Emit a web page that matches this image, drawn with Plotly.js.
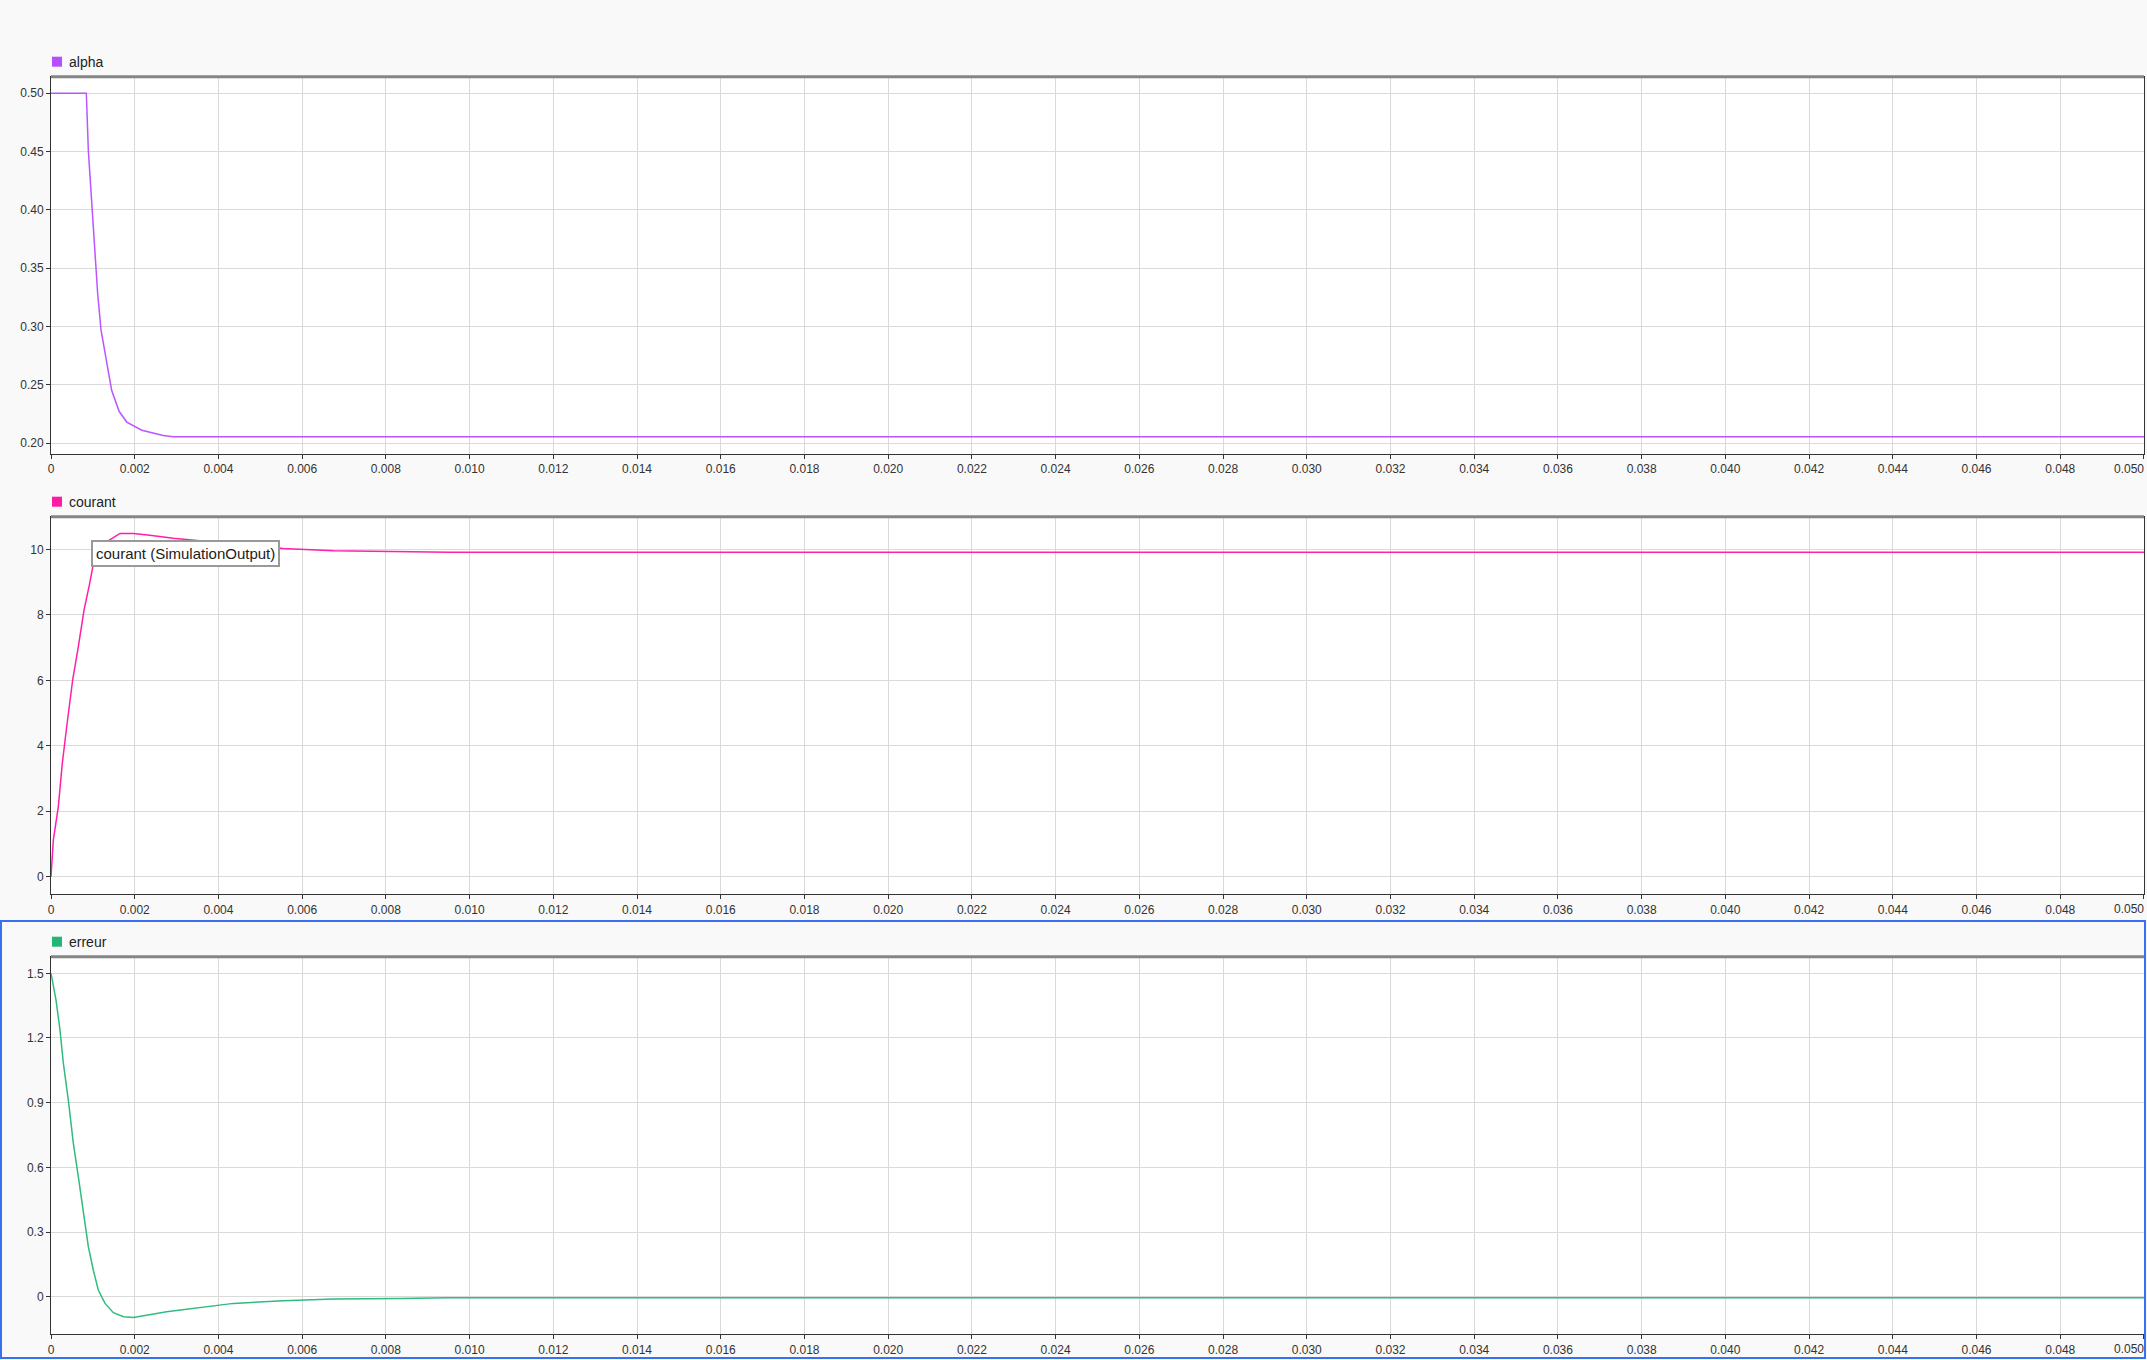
<!DOCTYPE html>
<html>
<head>
<meta charset="utf-8">
<script src="https://cdn.plot.ly/plotly-3.0.1.min.js"></script>
<style>
html,body{margin:0;padding:0;background:#f9f9f9;}
#chart{width:2147px;height:1360px;}
</style>
</head>
<body>
<div id="chart"></div>
<script>
// ---- data ----
var tAlpha = [0, 0.000844, 0.000892, 0.000972, 0.00105, 0.001115, 0.001195, 0.00129, 0.00145, 0.00163, 0.00181, 0.00217, 0.00268, 0.00292, 0.05];
var alpha  = [0.5, 0.5, 0.451, 0.403, 0.360, 0.328, 0.297, 0.277, 0.245, 0.227, 0.218, 0.211, 0.2065, 0.2054, 0.2054];

var tCourant = [0, 0.000056, 0.000175, 0.00027, 0.000375, 0.000518, 0.000653, 0.00079, 0.000916, 0.00103, 0.00122, 0.00141, 0.00165, 0.00197, 0.00236, 0.00292, 0.0045, 0.00555, 0.00675, 0.00794, 0.00953, 0.05];
var courant  = [0, 1.12, 2.14, 3.46, 4.58, 6.01, 7.03, 8.15, 8.91, 9.68, 10.10, 10.30, 10.49, 10.49, 10.43, 10.34, 10.15, 10.03, 9.96, 9.94, 9.91, 9.91];

var tErreur = [0, 0.00012, 0.000215, 0.000295, 0.000414, 0.000534, 0.000653, 0.000773, 0.000892, 0.00101, 0.00113, 0.00129, 0.00149, 0.00173, 0.00197, 0.00276, 0.00396, 0.00436, 0.00555, 0.00675, 0.00834, 0.0095, 0.05];
var erreur  = [1.5, 1.376, 1.237, 1.083, 0.912, 0.711, 0.557, 0.387, 0.232, 0.124, 0.031, -0.031, -0.074, -0.093, -0.096, -0.070, -0.042, -0.031, -0.0185, -0.0108, -0.008, -0.005, -0.005];

var seriesNames = ["alpha", "courant", "erreur"];
var tooltipText = "courant (SimulationOutput)";

var xTickVals = [0,0.002,0.004,0.006,0.008,0.010,0.012,0.014,0.016,0.018,0.020,0.022,0.024,0.026,0.028,0.030,0.032,0.034,0.036,0.038,0.040,0.042,0.044,0.046,0.048,0.050];
var xTickText = ["0","0.002","0.004","0.006","0.008","0.010","0.012","0.014","0.016","0.018","0.020","0.022","0.024","0.026","0.028","0.030","0.032","0.034","0.036","0.038","0.040","0.042","0.044","0.046","0.048","0.050"];
var alphaTickVals = [0.20,0.25,0.30,0.35,0.40,0.45,0.50];
var alphaTickText = ["0.20","0.25","0.30","0.35","0.40","0.45","0.50"];
var courantTickVals = [0,2,4,6,8,10];
var erreurTickVals = [0,0.3,0.6,0.9,1.2,1.5];
var erreurTickText = ["0","0.3","0.6","0.9","1.2","1.5"];

// ---- styling / layout ----
var W = 2147, H = 1360;
function px(x){return x/W;}
function py(y){return 1 - y/H;}

var colors = ["#bb55ff", "#ff1fa8", "#30bb80"];
var squareColors = ["#b84dff", "#ff1aa6", "#22b573"];
var font = "Liberation Sans, Arial, sans-serif";

var panels = [
  {top:76.7, bottom:454, range:[0.1906, 0.5142], tv:alphaTickVals, tt:alphaTickText},
  {top:516.7, bottom:894.3, range:[-0.54, 11.0], tv:courantTickVals, tt:courantTickVals.map(String)},
  {top:956.7, bottom:1334.3, range:[-0.1744, 1.577], tv:erreurTickVals, tt:erreurTickText}
];
var xL = 51, xR = 2144;

var traces = [
  {x:tAlpha, y:alpha, xaxis:"x", yaxis:"y"},
  {x:tCourant, y:courant, xaxis:"x2", yaxis:"y2"},
  {x:tErreur, y:erreur, xaxis:"x3", yaxis:"y3"}
].map(function(t,i){
  t.type = "scatter"; t.mode = "lines"; t.name = seriesNames[i];
  t.line = {color: colors[i], width: 1.5};
  t.showlegend = false; t.hoverinfo = "skip";
  return t;
});

var layout = {
  width: W, height: H,
  margin: {l:0, r:0, t:0, b:0, pad:0},
  paper_bgcolor: "#f9f9f9",
  plot_bgcolor: "#ffffff",
  font: {family: font, size: 12, color: "#333"},
  showlegend: false,
  shapes: [],
  annotations: []
};

// last x tick label is drawn right-aligned so it is not cut at the page edge
var lastIdx = xTickText.length - 1;
var axisTickText = xTickText.slice(0, lastIdx).concat([""]);

panels.forEach(function(p,i){
  var xs = i===0 ? "xaxis" : "xaxis"+(i+1);
  var ys = i===0 ? "yaxis" : "yaxis"+(i+1);
  var yname = i===0 ? "y" : "y"+(i+1);
  var xname = i===0 ? "x" : "x"+(i+1);
  layout[xs] = {
    domain:[px(xL), px(xR)], anchor: yname, range:[0, 0.050001],
    tickmode:"array", tickvals:xTickVals, ticktext:axisTickText,
    showgrid:true, gridcolor:"#dadada", gridwidth:1, zeroline:false,
    showline:true, linecolor:"#333", linewidth:1, mirror:true,
    ticks:"outside", ticklen:4, tickcolor:"#333", tickwidth:1,
    tickfont:{family:font, size:12, color:"#333"}, fixedrange:true
  };
  layout[ys] = {
    domain:[py(p.bottom), py(p.top)], anchor: xname, range:p.range,
    tickmode:"array", tickvals:p.tv, ticktext:p.tt,
    showgrid:true, gridcolor:"#dadada", gridwidth:1, zeroline:false,
    showline:true, linecolor:"#333", linewidth:1, mirror:true,
    ticks:"outside", ticklen:4, tickcolor:"#333", tickwidth:1,
    tickfont:{family:font, size:12, color:"#333"}, fixedrange:true
  };
  layout.annotations.push({xref:xname, yref:"paper", x:xTickVals[lastIdx], y:py(p.bottom + 15),
    xanchor:"right", yanchor:"middle", xshift:2, showarrow:false, text:xTickText[lastIdx],
    font:{family:font, size:12, color:"#333"}});
  // thicker gray top border
  layout.shapes.push({type:"line", xref:"paper", yref:"paper",
    x0:px(xL), x1:px(xR), y0:py(p.top), y1:py(p.top),
    line:{color:"#858585", width:3}});
  // legend square
  var sq = p.top - 20;
  layout.shapes.push({type:"rect", xref:"paper", yref:"paper",
    x0:px(52), x1:px(62), y0:py(sq+10), y1:py(sq),
    fillcolor:squareColors[i], line:{width:0}});
  layout.annotations.push({xref:"paper", yref:"paper", x:px(67), y:py(sq+5),
    xanchor:"left", yanchor:"middle", showarrow:false, text:seriesNames[i],
    font:{family:font, size:14, color:"#222"}});
});

// blue selection frame around the third panel
layout.shapes.push({type:"rect", xref:"paper", yref:"paper",
  x0:px(1), x1:px(2145), y0:py(1358), y1:py(921),
  line:{color:"#3a6ff0", width:2}, fillcolor:"rgba(0,0,0,0)"});

// tooltip box
layout.annotations.push({xref:"paper", yref:"paper", x:px(91), y:py(540),
  xanchor:"left", yanchor:"top", showarrow:false, text:tooltipText,
  font:{family:font, size:15, color:"#222"},
  bgcolor:"#ffffff", bordercolor:"#999999", borderwidth:2, borderpad:3});

Plotly.newPlot("chart", traces, layout, {displayModeBar:false, staticPlot:true});
</script>
</body>
</html>
